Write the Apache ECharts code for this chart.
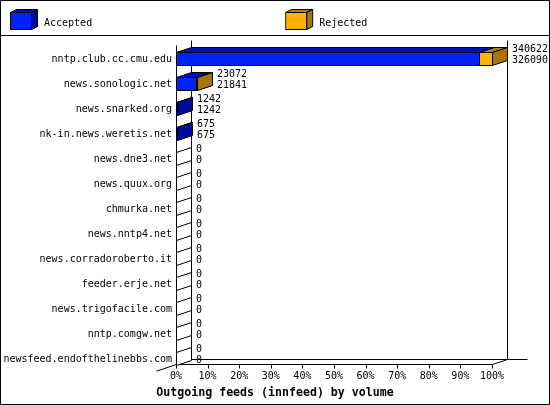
<!DOCTYPE html>
<html><head><meta charset="utf-8">
<script src="https://cdn.jsdelivr.net/npm/echarts@6/dist/echarts.min.js"></script>
<style>html,body{margin:0;padding:0;background:#fff}#c{width:550px;height:405px}</style>
</head><body><div id="c"></div>
<script>
const categories = ['nntp.club.cc.cmu.edu','news.sonologic.net','news.snarked.org','nk-in.news.weretis.net','news.dne3.net','news.quux.org','chmurka.net','news.nntp4.net','news.corradoroberto.it','feeder.erje.net','news.trigofacile.com','nntp.comgw.net','newsfeed.endofthelinebbs.com'];
const accepted = [326090, 21841, 1242, 675, 0, 0, 0, 0, 0, 0, 0, 0, 0];
const rejected = [340622, 23072, 1242, 675, 0, 0, 0, 0, 0, 0, 0, 0, 0];
const tickLabels = ['0%','10%','20%','30%','40%','50%','60%','70%','80%','90%','100%'];
const seriesNames = ['Accepted', 'Rejected'];
const xMax = Math.max(...rejected);

const FONT = '"DejaVu Sans Mono", monospace';
const DX = 15, DY = 5;
const BLUE = {front: '#0022ff', top: '#0010b8', side: '#000c96'};
const ORANGE = {front: '#ffb000', top: '#b8800a', side: '#a87408'};
const r = v => Math.round(v) + 0.5;

function cubeSvg(c) {
  const s = '<svg xmlns="http://www.w3.org/2000/svg" width="29" height="21" viewBox="0 0 29 21">' +
    '<polygon points="0.5,3.5 21.5,3.5 27.5,0.5 6.5,0.5" fill="' + c.top + '" stroke="#000"/>' +
    '<polygon points="21.5,3.5 27.5,0.5 27.5,17.5 21.5,20.5" fill="' + c.side + '" stroke="#000"/>' +
    '<rect x="0.5" y="3.5" width="21" height="17" fill="' + c.front + '" stroke="#000"/></svg>';
  return 'image://data:image/svg+xml;charset=utf-8,' + encodeURIComponent(s);
}

function box(x0, x1, yc, col, emptyFill) {
  const yt = r(yc - 7), yb = r(yc + 6);
  x0 = r(x0); x1 = r(x1);
  const st = {stroke: '#000', lineWidth: 1};
  const kids = [];
  if (x1 > x0) {
    kids.push({type: 'polygon', shape: {points: [[x0, yt], [x1, yt], [x1, yb], [x0, yb]]}, style: Object.assign({fill: col.front}, st)});
    kids.push({type: 'polygon', shape: {points: [[x0, yt], [x1, yt], [x1 + DX, yt - DY], [x0 + DX, yt - DY]]}, style: Object.assign({fill: col.top}, st)});
  }
  kids.push({type: 'polygon', shape: {points: [[x1, yt], [x1, yb], [x1 + DX, yb - DY], [x1 + DX, yt - DY]]}, style: Object.assign({fill: emptyFill ? '#fff' : col.side}, st)});
  return {type: 'group', children: kids};
}

const chart = echarts.init(document.getElementById('c'), null, {renderer: 'canvas'});
chart.setOption({
  animation: false,
  backgroundColor: '#fff',
  title: {
    text: 'Outgoing feeds (innfeed) by volume', left: 'center', top: 382,
    textStyle: {fontFamily: FONT, fontSize: 11.6, fontWeight: 'bold', color: '#000'}
  },
  legend: {
    left: 10, top: 9, itemWidth: 29, itemHeight: 21, itemGap: 193, padding: 0,
    data: [{name: seriesNames[0], icon: cubeSvg(BLUE)}, {name: seriesNames[1], icon: cubeSvg(ORANGE)}],
    formatter: '{t|{name}}',
    textStyle: {fontFamily: FONT, fontSize: 10, color: '#000',
      rich: {t: {fontFamily: FONT, fontSize: 10, color: '#000', padding: [8, 0, 0, 0]}}},
    selectedMode: false
  },
  graphic: [
    {type: 'rect', shape: {x: 0.5, y: 0.5, width: 549, height: 404}, style: {fill: 'none', stroke: '#000', lineWidth: 1}, z: 100},
    {type: 'line', shape: {x1: 0, y1: 35.5, x2: 550, y2: 35.5}, style: {stroke: '#000', lineWidth: 1}, z: 100}
  ],
  grid: {left: 176, right: 58, top: 46.5, height: 325, containLabel: false},
  xAxis: {
    type: 'value', min: 0, max: xMax, interval: xMax / 10,
    axisLine: {show: false}, axisTick: {show: false}, splitLine: {show: false},
    axisLabel: {
      margin: 0, fontFamily: FONT, fontSize: 10, color: '#000',
      formatter: (v, i) => tickLabels[Math.round(v / xMax * 10)]
    }
  },
  yAxis: {
    type: 'category', data: categories, inverse: true,
    axisLine: {show: false}, axisTick: {show: false}, splitLine: {show: false},
    axisLabel: {margin: 4, fontFamily: FONT, fontSize: 10, color: '#000'}
  },
  series: [
    {
      type: 'custom', name: 'frame', silent: true, z: 1,
      data: [[0, 0]],
      renderItem: function (params, api) {
        const cs = params.coordSys;
        const L = r(cs.x), R = r(cs.x + cs.width);
        const Yf = r(cs.y + cs.height - 7.5), Yb = Yf - DY;
        const Yt = r(cs.y - 1.5);
        const lines = [
          [L, Yt, L, Yf],
          [L + DX, Yt - DY, L + DX, Yb],
          [R + DX, Yt - DY, R + DX, Yb],
          [L + DX, Yb, R + DX + 20, Yb],
          [L, Yf, R, Yf],
          [L - 20, Yf + 20 * DY / DX, L + DX, Yb],
          [R, Yf, R + DX, Yb]
        ];
        for (let i = 0; i < tickLabels.length; i++) {
          const tx = r(api.coord([xMax * i / 10, 0])[0]);
          lines.push([tx, Yf, tx, Yf + 4]);
        }
        return {type: 'group', children: lines.map(l => ({
          type: 'line', shape: {x1: l[0], y1: l[1], x2: l[2], y2: l[3]},
          style: {stroke: '#000', lineWidth: 1}
        }))};
      }
    },
    {
      type: 'custom', name: seriesNames[0], z: 2,
      data: accepted.map((v, i) => [v, i]),
      encode: {x: 0, y: 1},
      renderItem: function (params, api) {
        const i = api.value(1);
        const p0 = api.coord([0, i]);
        const p1 = api.coord([api.value(0), i]);
        return box(p0[0], p1[0], p0[1], BLUE, api.value(0) === 0);
      }
    },
    {
      type: 'custom', name: seriesNames[1], z: 3,
      data: rejected.map((v, i) => [v, i, accepted[i]]),
      encode: {x: 0, y: 1},
      renderItem: function (params, api) {
        const i = api.value(1);
        const v = api.value(0), a = api.value(2);
        if (v <= a) return null;
        const p0 = api.coord([a, i]);
        const p1 = api.coord([v, i]);
        return box(p0[0], p1[0], p0[1], ORANGE, false);
      }
    },
    {
      type: 'custom', name: 'values', silent: true, z: 4,
      data: rejected.map((v, i) => [v, i, accepted[i]]),
      encode: {x: 0, y: 1},
      renderItem: function (params, api) {
        const i = api.value(1);
        const p = api.coord([api.value(0), i]);
        const x = Math.round(p[0]) + 20;
        const font = '10px ' + FONT;
        return {type: 'group', children: [
          {type: 'text', style: {text: String(api.value(0)), x: x, y: p[1] - 10, font: font, fill: '#000', verticalAlign: 'middle', align: 'left'}},
          {type: 'text', style: {text: String(api.value(2)), x: x, y: p[1] + 1.5, font: font, fill: '#000', verticalAlign: 'middle', align: 'left'}}
        ]};
      }
    }
  ]
});
</script></body></html>
